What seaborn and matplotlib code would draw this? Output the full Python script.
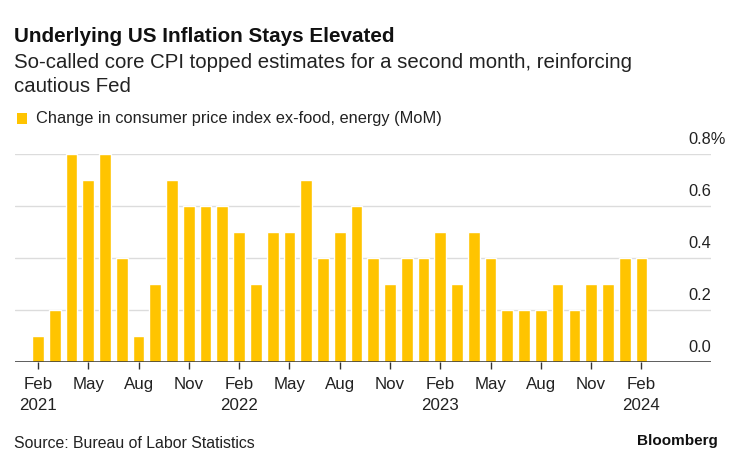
import matplotlib
matplotlib.use("Agg")
import matplotlib.pyplot as plt
import matplotlib.transforms as mtransforms
import seaborn as sns
import pandas as pd

months = ["Feb 2021", "Mar 2021", "Apr 2021", "May 2021", "Jun 2021", "Jul 2021", "Aug 2021", "Sep 2021",
          "Oct 2021", "Nov 2021", "Dec 2021", "Jan 2022", "Feb 2022", "Mar 2022", "Apr 2022", "May 2022",
          "Jun 2022", "Jul 2022", "Aug 2022", "Sep 2022", "Oct 2022", "Nov 2022", "Dec 2022", "Jan 2023",
          "Feb 2023", "Mar 2023", "Apr 2023", "May 2023", "Jun 2023", "Jul 2023", "Aug 2023", "Sep 2023",
          "Oct 2023", "Nov 2023", "Dec 2023", "Jan 2024", "Feb 2024"]
values = [0.1, 0.2, 0.8, 0.7, 0.8, 0.4, 0.1, 0.3,
          0.7, 0.6, 0.6, 0.6, 0.5, 0.3, 0.5, 0.5,
          0.7, 0.4, 0.5, 0.6, 0.4, 0.3, 0.4, 0.4,
          0.5, 0.3, 0.5, 0.4, 0.2, 0.2, 0.2, 0.3,
          0.2, 0.3, 0.3, 0.4, 0.4]
xtick_labels = ["Feb\n2021", "May", "Aug", "Nov", "Feb\n2022", "May", "Aug", "Nov",
                "Feb\n2023", "May", "Aug", "Nov", "Feb\n2024"]
yticks = [0.0, 0.2, 0.4, 0.6, 0.8]
ytick_labels = ["0.0", "0.2", "0.4", "0.6", "0.8%"]

sns.set_theme(style="white")
plt.rcParams['font.family'] = ['Liberation Sans', 'DejaVu Sans']

W, H = 739, 466
fig = plt.figure(figsize=(W / 100, H / 100), dpi=100)
fig.patch.set_facecolor("white")

def px(x, y):
    return x / W, 1 - y / H

left, right, top, bottom = 15, 711, 154, 362
ax = fig.add_axes([left / W, 1 - bottom / H, (right - left) / W, (bottom - top) / H])

df = pd.DataFrame({"month": months, "value": values})
bar_color = "#FFC400"
sns.barplot(data=df, x="month", y="value", order=months, color=bar_color,
            saturation=1, width=0.7, ax=ax)

n = len(months)
ax.set_xlim(-1.37, 40.15)
ax.set_ylim(0, 0.8)
for s in ax.spines.values():
    s.set_visible(False)
ax.set_xlabel("")
ax.set_ylabel("")

ax.set_yticks(yticks)
ax.yaxis.grid(True, color="#dcdcdc", linewidth=1)
ax.set_axisbelow(True)
ax.tick_params(axis="y", length=0, labelleft=False, labelright=False)
ax.axhline(0, color="#333333", linewidth=1.1, zorder=3)

trans = mtransforms.blended_transform_factory(fig.transFigure, ax.transData)
offset = mtransforms.ScaledTranslation(0, 5 / 72, fig.dpi_scale_trans)
for v, lab in zip(yticks, ytick_labels):
    ax.text(688 / W, v, lab, transform=trans + offset, ha="left", va="bottom",
            fontsize=11.8, color="#222222")

tick_pos = list(range(0, n, 3))
ax.set_xticks(tick_pos)
ax.set_xticklabels(xtick_labels, fontsize=12.2, color="#222222", linespacing=1.45)
ax.tick_params(axis="x", length=5, width=1, color="#333333", direction="out", pad=6, bottom=True)

# Titles
fig.text(*px(14, 36), "Underlying US Inflation Stays Elevated", fontsize=14.9, fontweight="bold",
         ha="left", va="center", color="#111111")
fig.text(*px(14, 63), "So-called core CPI topped estimates for a second month, reinforcing",
         fontsize=14.7, ha="left", va="center", color="#222222")
fig.text(*px(14, 87), "cautious Fed", fontsize=14.7, ha="left", va="center", color="#222222")

# Legend
fig.patches.append(plt.Rectangle(px(17, 124), 10 / W, 11 / H, transform=fig.transFigure,
                                 facecolor=bar_color, edgecolor="none"))
fig.text(*px(36, 118), "Change in consumer price index ex-food, energy (MoM)", fontsize=11.8,
         ha="left", va="center", color="#222222")

# Footer
fig.text(*px(14, 443), "Source: Bureau of Labor Statistics", fontsize=11.4, ha="left", va="center",
         color="#222222")
fig.text(*px(718, 441), "Bloomberg", fontsize=11, fontweight="bold", ha="right", va="center",
         color="#111111")

fig.savefig("out.png", dpi=100, facecolor="white")
